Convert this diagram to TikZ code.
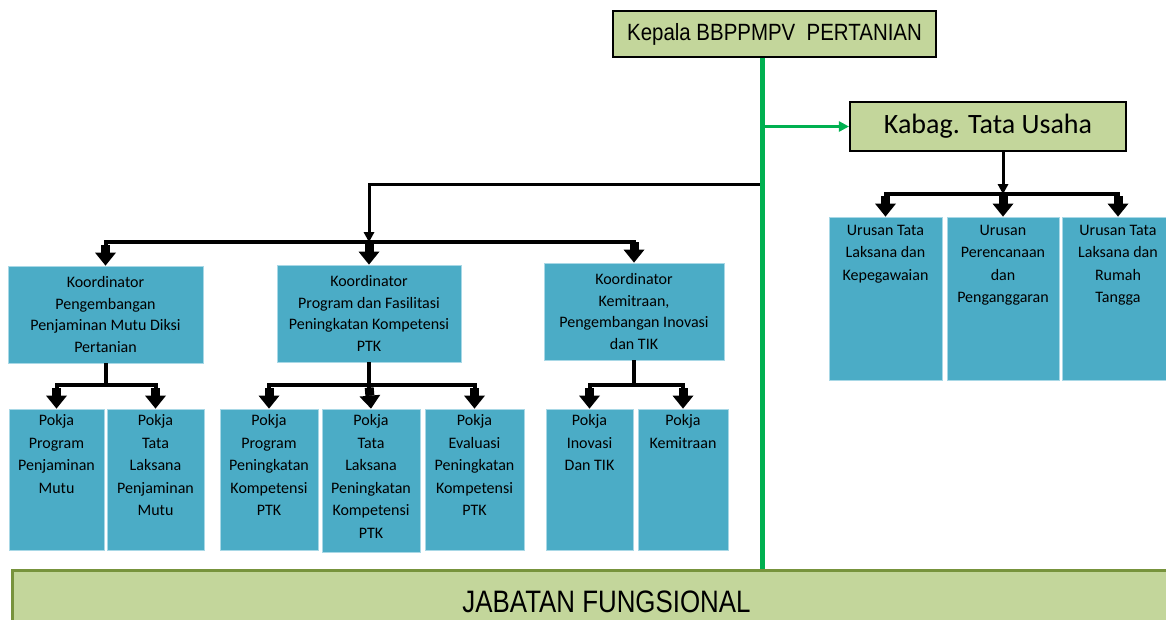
\documentclass[tikz,border=0pt]{standalone}
\usepackage{fontspec}
\setmainfont{Carlito}
\newfontfamily\kepfont[FakeStretch=0.87]{Liberation Sans}
\newfontfamily\jabfont[FakeStretch=0.835]{Liberation Sans}
\usetikzlibrary{arrows.meta}
\definecolor{lgreen}{HTML}{C3D69B}
\definecolor{tealc}{HTML}{4BACC6}
\definecolor{tealedge}{HTML}{A8D8E6}
\definecolor{olivec}{HTML}{77933C}
\definecolor{gcol}{HTML}{00B050}
\begin{document}
\begin{tikzpicture}[x=1pt,y=-1pt,
  boxk/.style={draw=black, line width=2.5pt, fill=lgreen, inner sep=0pt},
  tbox/.style={draw=tealedge, line width=0.8pt, fill=tealc, inner sep=0pt},
  txt/.style={font=\fontsize{16}{22.5}\selectfont, align=center, inner sep=0pt, text=black},
  big/.style={line width=4pt, -{Rectangle[width=9pt,length=8pt,line width=0pt]Triangle[width=21pt,length=13pt,line width=0pt]}},
  thinarr/.style={line width=3pt, -{Triangle[width=11pt,length=10pt,line width=0pt]}},
  stem/.style={line width=4pt},
  gline/.style={line width=5pt, draw=gcol},
  garrow/.style={line width=3pt, draw=gcol, -{Triangle[width=11pt,length=10pt,line width=0pt]}}
]
\useasboundingbox (0,0) rectangle (1166,619);
\clip (0,0) rectangle (1166,619);

% top boxes
\node[boxk, minimum width=323pt, minimum height=46pt, font=\kepfont\fontsize{23.5}{28}\selectfont] (kepala) at (774.5,34) {Kepala BBPPMPV\ \ PERTANIAN};
\node[boxk, minimum width=276pt, minimum height=49pt, font=\fontsize{28}{34}\selectfont] (kabag) at (988,126.5) {Kabag. Tata Usaha};

% bottom box
\node[draw=olivec, line width=3pt, fill=lgreen, minimum width=1175pt, minimum height=80pt, anchor=north west, inner sep=0pt] (jab) at (11,569) {};
\node[font=\jabfont\fontsize{31}{36}\selectfont, anchor=base, inner sep=0pt] (jabt) at (606.5,612) {JABATAN FUNGSIONAL};

% urusan boxes
\node[tbox, minimum width=113pt, minimum height=163pt] (u1) at (885.5,298.5) {};
\node[tbox, minimum width=112pt, minimum height=163pt] (u2) at (1003,298.5) {};
\node[tbox, minimum width=112pt, minimum height=163pt] (u3) at (1118,298.5) {};
\node[txt, anchor=north] (u1t) at ([yshift=-8pt]u1.north) {Urusan Tata\\Laksana dan\\Kepegawaian};
\node[txt, anchor=north] (u2t) at ([yshift=-8pt]u2.north) {Urusan\\Perencanaan\\dan\\Penganggaran};
\node[txt, anchor=north] (u3t) at ([yshift=-8pt]u3.north) {Urusan Tata\\Laksana dan\\Rumah\\Tangga};

% coordinators
\node[tbox, txt, fill=tealc, draw=tealedge, minimum width=195pt, minimum height=97pt, font=\fontsize{16}{21.5}\selectfont] (c1) at (105.5,314.5) {Koordinator\\Pengembangan\\Penjaminan Mutu Diksi\\Pertanian};
\node[tbox, txt, fill=tealc, draw=tealedge, minimum width=184pt, minimum height=97pt, font=\fontsize{16}{21.5}\selectfont] (c2) at (369,313.5) {Koordinator\\Program dan Fasilitasi\\Peningkatan Kompetensi\\PTK};
\node[tbox, txt, fill=tealc, draw=tealedge, minimum width=180pt, minimum height=97pt, font=\fontsize{16}{21.5}\selectfont] (c3) at (634,311.5) {Koordinator\\Kemitraan,\\Pengembangan Inovasi\\dan TIK};

% pokja boxes
\node[tbox, minimum width=95pt, minimum height=141pt] (p1) at (56.5,479.5) {};
\node[tbox, minimum width=97pt, minimum height=141pt] (p2) at (155.5,479.5) {};
\node[tbox, minimum width=98pt, minimum height=141pt] (p3) at (269,479.5) {};
\node[tbox, minimum width=98pt, minimum height=143pt] (p4) at (371,480.5) {};
\node[tbox, minimum width=99pt, minimum height=141pt] (p5) at (474.5,479.5) {};
\node[tbox, minimum width=87pt, minimum height=141pt] (p6) at (589.5,479.5) {};
\node[tbox, minimum width=90pt, minimum height=141pt] (p7) at (683,479.5) {};
\node[txt, anchor=north] (p1t) at ([yshift=-6pt]p1.north) {Pokja\\Program\\Penjaminan\\Mutu};
\node[txt, anchor=north] (p2t) at ([yshift=-6pt]p2.north) {Pokja\\Tata\\Laksana\\Penjaminan\\Mutu};
\node[txt, anchor=north] (p3t) at ([yshift=-6pt]p3.north) {Pokja\\Program\\Peningkatan\\Kompetensi\\PTK};
\node[txt, anchor=north] (p4t) at ([yshift=-6pt]p4.north) {Pokja\\Tata\\Laksana\\Peningkatan\\Kompetensi\\PTK};
\node[txt, anchor=north] (p5t) at ([yshift=-6pt]p5.north) {Pokja\\Evaluasi\\Peningkatan\\Kompetensi\\PTK};
\node[txt, anchor=north] (p6t) at ([yshift=-6pt]p6.north) {Pokja\\Inovasi\\Dan TIK};
\node[txt, anchor=north] (p7t) at ([yshift=-6pt]p7.north) {Pokja\\Kemitraan};

% coordinates
\coordinate (spine) at (762,0);
\coordinate (tap) at (762,184);
\coordinate (hub) at (369,242);
\coordinate (khub) at (1003,194);

% black connectors: head to coordinators
\draw[thinarr] (tap) -| (hub);
\draw[big] (hub) -| (c1.north);
\draw[big] (hub) -- (c2.north);
\draw[big] (hub) -| (c3.north);

% coordinators to pokja
\draw[stem] (c1.south) -- ++(0,22) coordinate (j1);
\draw[big] (j1) -| (p1.north);
\draw[big] (j1) -| (p2.north);
\draw[stem] (c2.south) -- ++(0,23) coordinate (j2);
\draw[big] (j2) -| (p3.north);
\draw[big] (j2) -- (p4.north);
\draw[big] (j2) -| (p5.north);
\draw[stem] (c3.south) -- ++(0,25) coordinate (j3);
\draw[big] (j3) -| (p6.north);
\draw[big] (j3) -| (p7.north);

% kabag to urusan
\draw[thinarr] (kabag.south -| khub) -- (khub);
\draw[big] (khub) -| (u1.north);
\draw[big] (khub) -- (u2.north);
\draw[big] (khub) -| (u3.north);

% green spine and arrow
\draw[gline] (kepala.south -| spine) -- (jab.north -| spine);
\draw[garrow] ([xshift=2pt]spine |- kabag.west) -- (kabag.west);
\end{tikzpicture}
\end{document}
